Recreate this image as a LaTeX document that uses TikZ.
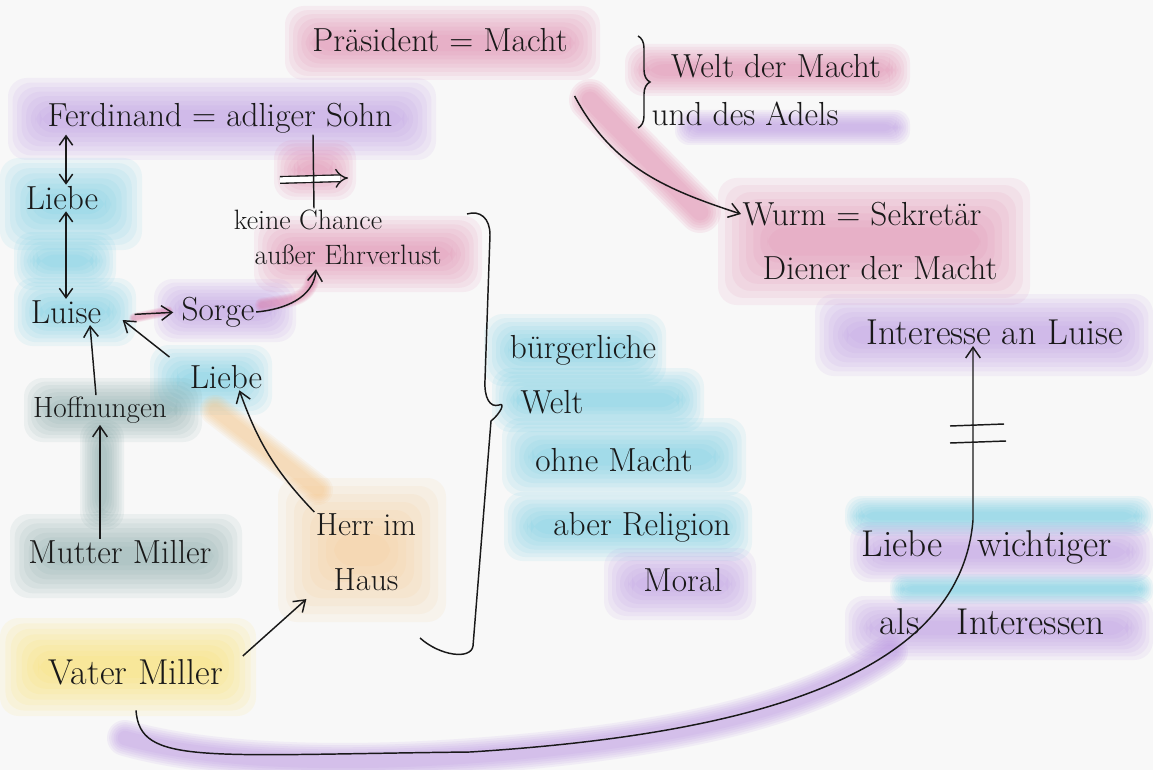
\documentclass[tikz,border=0pt]{standalone}
\usepackage{fontspec}
\usetikzlibrary{arrows.meta,decorations.pathreplacing,calc}
\definecolor{bg}{RGB}{248,248,248}
\definecolor{ink}{RGB}{25,25,25}
\definecolor{hpurple}{RGB}{180,140,225}
\definecolor{hblue}{RGB}{95,200,225}
\definecolor{hpink}{RGB}{222,120,165}
\definecolor{hteal}{RGB}{120,160,160}
\definecolor{horange}{RGB}{245,195,130}
\definecolor{hyellow}{RGB}{250,222,80}
\newcommand\hlbox[5]{%
  \pgfmathsetmacro\hlm{min(#4-#2,#5-#3)/18}%
  \pgfmathsetmacro\hlr{min(14,min(#4-#2,#5-#3)*0.3)}%
  \foreach \i in {0,...,7}{\fill[#1,opacity=0.095,rounded corners=\hlr pt] ({#2+\i*\hlm},{#3+\i*\hlm}) rectangle ({#4-\i*\hlm},{#5-\i*\hlm});}}
\newcommand\hlband[3]{\foreach \w in {1,0.88,0.76,0.64,0.52,0.4}{\draw[#1,opacity=0.11,line width=\w*#2*0.75pt,line cap=round] #3;}}
\tikzset{
  txt/.style={font=\fontsize{25}{30}\selectfont, inner sep=1pt, text=ink},
  arr/.style={draw=ink, line width=1.1pt, -{Straight Barb[length=8pt,width=11pt]}},
  darr/.style={draw=ink, line width=1.1pt, {Straight Barb[length=7pt,width=10pt]}-{Straight Barb[length=7pt,width=10pt]}},
  pen/.style={draw=ink, line width=1.1pt},
  bracepen/.style={draw=ink, line width=1.1pt, decorate, decoration={brace, amplitude=#1}},
}
\begin{document}
\begin{tikzpicture}[x=0.75pt,y=-0.75pt]
\fill[bg] (0,0) rectangle (1153,770);
\useasboundingbox (0,0) rectangle (1153,770);
% ---------- highlights ----------
\hlbox{hpink}{285}{6}{600}{80}
\hlbox{hpink}{625}{44}{910}{96}
\hlbox{hpurple}{675}{110}{910}{145}
\hlband{hpink}{42}{(590,100) -- (700,212)}
\hlbox{hpink}{718}{178}{1030}{305}
\hlbox{hpurple}{815}{294}{1153}{376}
\hlbox{hblue}{845}{496}{1153}{536}
\hlbox{hpurple}{850}{522}{1153}{582}
\hlbox{hblue}{890}{574}{1153}{604}
\hlbox{hpurple}{845}{596}{1153}{660}
\hlbox{hpurple}{8}{78}{436}{160}
\hlbox{hpink}{274}{140}{356}{200}
\hlbox{hpink}{254}{216}{482}{292}
\hlbox{hblue}{0}{158}{142}{250}
\hlbox{hblue}{14}{232}{116}{290}
\hlbox{hblue}{14}{278}{136}{346}
\hlbox{hpurple}{154}{279}{296}{342}
\hlband{hpink}{14}{(262,305) to[out=10,in=-100] (312,280)}
\hlband{hpink}{10}{(134,318) -- (168,311)}
\hlbox{hblue}{150}{345}{272}{415}
\hlbox{hteal}{24}{378}{202}{442}
\hlbox{hteal}{80}{420}{124}{530}
\hlbox{hteal}{10}{514}{242}{598}
\hlband{horange}{30}{(215,410) -- (318,490)}
\hlbox{horange}{278}{478}{446}{622}
\hlbox{hyellow}{0}{618}{256}{716}
\hlband{hpurple}{36}{(125,738) .. controls (220,765) and (380,768) .. (560,748) .. controls (720,730) and (820,700) .. (890,652)}
\hlbox{hblue}{484}{314}{666}{386}
\hlbox{hblue}{492}{368}{704}{432}
\hlbox{hblue}{502}{418}{746}{496}
\hlbox{hblue}{504}{492}{752}{561}
\hlbox{hpurple}{604}{548}{756}{620}
% ---------- texts ----------
\node[txt] (pres) at (440,40) {Präsident = Macht};
\node[txt] (weltm) at (776,66) {Welt der Macht};
\node[txt] (adel) at (745,114) {und des Adels};
\node[txt] (ferd) at (220,118) {Ferdinand = adliger Sohn};
\node[txt] (liebe1) at (62,198) {Liebe};
\node[txt] (luise) at (66,312) {Luise};
\node[txt] (sorge) at (218,312) {Sorge};
\node[txt,font=\fontsize{21}{25}\selectfont] (chance) at (308,220) {keine Chance};
\node[txt,font=\fontsize{21}{25}\selectfont] (ehr) at (348,255) {außer Ehrverlust};
\node[txt,font=\fontsize{22}{26}\selectfont] (hoff) at (100,410) {Hoffnungen};
\node[txt] (liebe2) at (226,377) {Liebe};
\node[txt] (mutter) at (120,552) {Mutter Miller};
\node[txt,align=center,font=\fontsize{24}{41}\selectfont] (herr) at (366,552) {Herr im\\Haus};
\node[txt,font=\fontsize{27}{32}\selectfont] (vater) at (136,672) {Vater Miller};
\node[txt] (wurm) at (862,214) {Wurm = Sekretär};
\node[txt] (diener) at (880,268) {Diener der Macht};
\node[txt,font=\fontsize{27}{32}\selectfont] (interesse) at (995,332) {Interesse an Luise};
\node[txt] (buerg) at (583,350) {bürgerliche};
\node[txt] (welt) at (552,402) {Welt};
\node[txt] (ohne) at (614,460) {ohne Macht};
\node[txt] (aber) at (642,527) {aber Religion};
\node[txt] (moral) at (683,580) {Moral};
\node[txt,font=\fontsize{28}{32}\selectfont,anchor=west] (lw1) at (860,547) {Liebe\hspace{26pt}wichtiger};
\node[txt,font=\fontsize{28}{32}\selectfont,anchor=west] (lw2) at (878,622) {als\hspace{28pt}Interessen};
% ---------- connectors ----------
\draw[darr] (liebe1.north -| 66,0) -- (ferd.south -| 66,0);
\draw[darr] (liebe1.south -| 66,0) -- (luise.north -| 66,0);
\draw[arr, shorten <=24pt, shorten >=5pt] ([yshift=-3pt]luise.east) -- (sorge.west);
\draw[arr] (sorge.east) to[out=5,in=-95] ([xshift=-24pt,yshift=-2pt]ehr.south);
\draw[arr] (hoff.north -| 96,0) -- (luise.south -| 90,0);
\draw[arr] (mutter.north -| 100,0) -- (hoff.south -| 100,0);
\draw[arr] ([xshift=-14pt,yshift=5pt]liebe2.north west) -- ([xshift=15pt,yshift=-6pt]luise.east);
\draw[arr] (herr.north west) to[bend left=12] ([xshift=10pt]liebe2.south);
\draw[arr, shorten <=18pt, shorten >=8pt] (vater.east) -- (herr.south west);
\draw[arr] ([xshift=4pt,yshift=-32pt]pres.south east) to[out=-62,in=162] (wurm.west);
% not-implies between Ferdinand and keine Chance
\coordinate (ni1) at (280,180);
\coordinate (ni2) at (348,178);
\draw[ink, line width=1pt, double distance=4pt, -{Implies}] (ni1) -- (ni2);
\draw[pen] (ferd.south -| 313,0) -- (chance.north -| 314,0);
% braces
\coordinate (b1) at (638,36);
\coordinate (b2) at (638,128);
\draw[bracepen=9pt] (b1) -- (b2);
\draw[pen] (467,214) .. controls (480,210) and (490,218) .. (490,235)
  -- (485,380) .. controls (484,398) and (490,408) .. (499,405)
  .. controls (506,402) and (500,414) .. (491,421)
  -- (473,646) .. controls (471,660) and (440,656) .. (420,638);
% long connection Vater Miller -> Interesse an Luise
\coordinate (lc1) at (470,752);
\coordinate (lc2) at (973,520);
\draw[arr] ([yshift=-18pt]vater.south) .. controls (140,765) and (200,755) .. (lc1)
  .. controls (740,735) and (960,680) .. (lc2) -- (interesse.south -| 973,0);
\coordinate (t1a) at (950,426);
\coordinate (t1b) at (1004,424);
\coordinate (t2a) at (950,443);
\coordinate (t2b) at (1006,441);
\draw[pen] (t1a) -- (t1b);
\draw[pen] (t2a) -- (t2b);
\end{tikzpicture}
\end{document}
